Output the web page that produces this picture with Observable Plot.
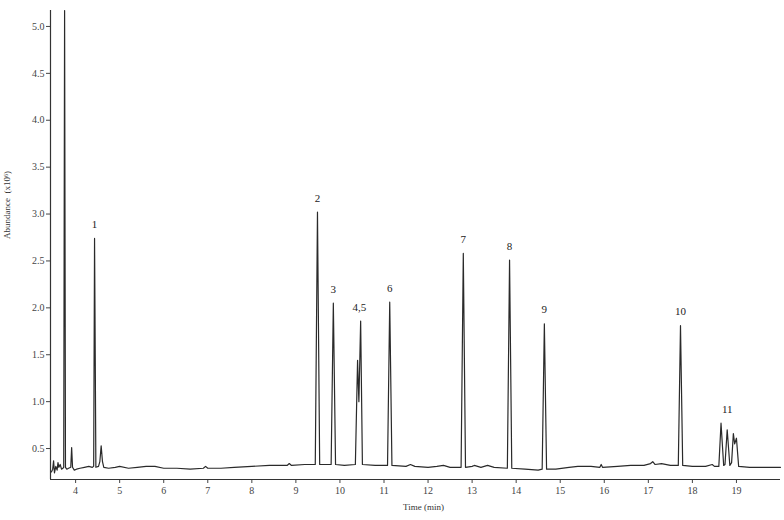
<!DOCTYPE html>
<html>
<head>
<meta charset="utf-8">
<script src="https://cdn.jsdelivr.net/npm/d3@7"></script>
<script src="https://cdn.jsdelivr.net/npm/@observablehq/plot@0.6"></script>
<style>
  html, body { margin: 0; padding: 0; background: #fff; }
  #chart svg { display: block; }
</style>
</head>
<body>
<div id="chart"></div>
<script>
// Chromatogram trace: retention time (min) and abundance (x10^6)
const times = [
  3.45, 3.48, 3.50, 3.52, 3.55, 3.58, 3.60, 3.62, 3.65, 3.68, 3.71, 3.73,
  3.75, 3.77, 3.80, 3.84, 3.89, 3.91, 3.93, 3.97, 4.02, 4.10, 4.20, 4.30,
  4.38, 4.41, 4.43, 4.46, 4.52, 4.55, 4.58, 4.61, 4.64, 4.75, 4.90, 5.00,
  5.20, 5.40, 5.60, 5.80, 6.00, 6.30, 6.60, 6.90, 6.95, 7.00, 7.30, 7.60,
  8.00, 8.40, 8.80, 8.85, 8.90, 9.20, 9.44, 9.49, 9.54, 9.80, 9.85, 9.90,
  10.10, 10.35, 10.40, 10.43, 10.47, 10.51, 10.80, 11.08, 11.13, 11.18, 11.50, 11.60,
  11.70, 12.00, 12.20, 12.35, 12.50, 12.75, 12.80, 12.85, 13.00, 13.05, 13.20, 13.35,
  13.50, 13.80, 13.85, 13.90, 14.20, 14.50, 14.59, 14.64, 14.69, 14.90, 15.20, 15.40,
  15.70, 15.90, 15.93, 15.96, 16.30, 16.60, 16.90, 17.05, 17.10, 17.15, 17.30, 17.50,
  17.68, 17.73, 17.78, 18.00, 18.30, 18.45, 18.50, 18.60, 18.65, 18.71, 18.74, 18.79,
  18.85, 18.89, 18.93, 18.96, 19.00, 19.05, 19.30, 19.60, 20.00
];
const abundance = [
  0.25, 0.28, 0.37, 0.24, 0.31, 0.27, 0.35, 0.30, 0.33, 0.28, 0.29, 0.30,
  5.17, 0.30, 0.28, 0.29, 0.30, 0.51, 0.30, 0.27, 0.28, 0.29, 0.30, 0.31,
  0.30, 0.31, 2.74, 0.30, 0.31, 0.36, 0.53, 0.36, 0.30, 0.29, 0.30, 0.31,
  0.29, 0.30, 0.31, 0.31, 0.29, 0.29, 0.28, 0.29, 0.31, 0.29, 0.29, 0.30,
  0.31, 0.32, 0.32, 0.34, 0.32, 0.33, 0.33, 3.02, 0.33, 0.33, 2.05, 0.33,
  0.32, 0.33, 1.44, 1.00, 1.86, 0.33, 0.32, 0.32, 2.06, 0.32, 0.31, 0.33,
  0.31, 0.30, 0.31, 0.32, 0.30, 0.30, 2.58, 0.30, 0.31, 0.32, 0.30, 0.32,
  0.30, 0.29, 2.51, 0.29, 0.28, 0.27, 0.28, 1.83, 0.28, 0.28, 0.30, 0.31,
  0.31, 0.30, 0.33, 0.30, 0.31, 0.32, 0.32, 0.34, 0.36, 0.33, 0.34, 0.32,
  0.32, 1.81, 0.32, 0.31, 0.31, 0.33, 0.31, 0.31, 0.77, 0.32, 0.33, 0.70,
  0.32, 0.35, 0.66, 0.55, 0.61, 0.31, 0.30, 0.30, 0.30
];

// Peak annotations
const peakLabels = ["1", "2", "3", "4,5", "6", "7", "8", "9", "10", "11"];
const peakTimes  = [4.43, 9.49, 9.85, 10.44, 11.13, 12.80, 13.85, 14.64, 17.73, 18.79];
const peakTops   = [2.74, 3.02, 2.05, 1.86, 2.06, 2.58, 2.51, 1.83, 1.81, 0.77];

// Axis ticks
const xTicks = [4, 5, 6, 7, 8, 9, 10, 11, 12, 13, 14, 15, 16, 17, 18, 19];
const yTicks = [0.5, 1.0, 1.5, 2.0, 2.5, 3.0, 3.5, 4.0, 4.5, 5.0];

const trace = times.map((t, i) => ({t, a: abundance[i]}));
const peaks = peakLabels.map((label, i) => ({label, t: peakTimes[i], a: peakTops[i]}));

const chart = Plot.plot({
  width: 784,
  height: 520,
  marginLeft: 50,
  marginRight: 4,
  marginTop: 10,
  marginBottom: 41,
  style: {fontFamily: "'Liberation Serif', 'DejaVu Serif', serif", fontSize: "10px", color: "#444", background: "#fff"},
  x: {domain: [3.43, 20.0], label: null},
  y: {domain: [0.17, 5.17], label: null},
  marks: [
    Plot.axisX({ticks: xTicks, tickFormat: d => String(d), tickSize: 4, tickPadding: 3, label: null, fontSize: 10}),
    Plot.axisY({ticks: yTicks, tickFormat: d3.format(".1f"), tickSize: 4, tickPadding: 2, label: null, fontSize: 10}),
    Plot.ruleX([3.43], {stroke: "#333", strokeWidth: 1.2}),
    Plot.ruleY([0.17], {stroke: "#333", strokeWidth: 1.2}),
    Plot.line(trace, {x: "t", y: "a", stroke: "#2a2a2a", strokeWidth: 1.2, curve: "linear"}),
    Plot.text(peaks, {x: "t", y: "a", text: "label", dy: -14, fontSize: 11, fill: "#222"}),
    Plot.text(["Time (min)"], {frameAnchor: "bottom", dy: 30, dx: 8, fontSize: 9, fill: "#333"}),
    Plot.text(["Abundance  (x10⁶)"], {frameAnchor: "left", rotate: -90, dx: -43, dy: -6, fontSize: 9, fill: "#333"})
  ]
});
document.getElementById("chart").appendChild(chart);
</script>
</body>
</html>
